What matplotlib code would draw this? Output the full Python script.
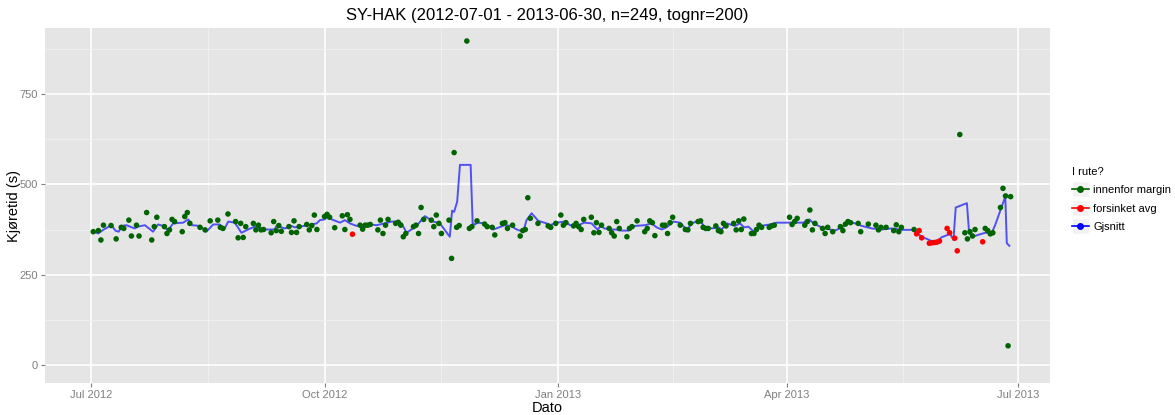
import numpy as np
import matplotlib
matplotlib.use("Agg")
import matplotlib.pyplot as plt
import matplotlib.dates as mdates
from matplotlib.lines import Line2D
from matplotlib.patches import Rectangle
from matplotlib.legend_handler import HandlerLine2D

# ---- data (day offset from 2012-07-01, running time in seconds) ----
green_days = [1, 3, 4, 5, 8, 10, 12, 13, 15, 16, 18, 19, 22, 24, 25, 26, 29, 30, 31, 32,
              33, 36, 37, 38, 39, 43, 45, 47, 50, 51, 52, 54, 57, 58, 59, 60, 61, 64, 65, 66,
              67, 68, 71, 72, 73, 74, 75, 78, 79, 80, 81, 82, 85, 86, 87, 88, 89, 92, 93, 94,
              96, 99, 100, 101, 102, 106, 107, 108, 109, 110, 113, 114, 115, 116, 117, 120, 121, 122, 123, 124,
              127, 128, 129, 130, 131, 134, 135, 136, 137, 138, 141, 142, 143, 144, 145, 148, 149, 150, 152, 155,
              156, 158, 159, 162, 163, 164, 166, 169, 170, 171, 172, 173, 176, 180, 181, 183, 185, 186, 187, 190,
              191, 192, 193, 194, 197, 198, 199, 200, 201, 204, 205, 206, 207, 208, 211, 212, 213, 215, 218, 219,
              220, 221, 222, 225, 226, 227, 228, 229, 232, 234, 235, 236, 239, 240, 241, 242, 243, 246, 247, 248,
              249, 250, 253, 254, 255, 256, 257, 260, 261, 262, 263, 264, 267, 268, 269, 275, 276, 277, 278, 281,
              282, 283, 284, 285, 288, 289, 290, 292, 295, 296, 297, 298, 299, 302, 303, 306, 309, 310, 311, 313,
              316, 317, 318, 319, 324, 342, 344, 345, 346, 347, 348, 352, 353, 354, 355, 358, 359, 360, 361, 362]
green_vals = [369, 372, 346, 387, 386, 349, 381, 378, 401, 357, 387, 357, 422, 346, 383, 409, 383, 364, 374, 403,
              397, 369, 411, 422, 392, 381, 374, 399, 401, 381, 378, 418, 397, 352, 392, 353, 383, 392, 374, 387,
              374, 375, 366, 397, 372, 386, 370, 383, 367, 399, 367, 383, 389, 374, 386, 415, 375, 411, 417, 409,
              380, 413, 375, 416, 403, 387, 376, 387, 387, 389, 374, 401, 364, 387, 403, 392, 395, 387, 355, 364,
              383, 387, 364, 436, 403, 401, 383, 415, 392, 364, 401, 295, 588, 381, 386, 897, 378, 383, 399, 390,
              383, 381, 360, 392, 394, 378, 387, 357, 372, 375, 463, 406, 392, 385, 381, 392, 415, 387, 394, 385,
              392, 383, 375, 403, 409, 366, 394, 367, 387, 378, 366, 357, 397, 378, 355, 378, 383, 399, 369, 378,
              399, 394, 358, 387, 387, 364, 394, 409, 387, 375, 374, 392, 397, 399, 381, 378, 378, 385, 372, 369,
              392, 385, 392, 374, 399, 375, 404, 364, 364, 375, 387, 381, 381, 385, 387, 409, 389, 397, 406, 387,
              397, 429, 374, 392, 378, 364, 381, 369, 383, 372, 390, 397, 394, 392, 369, 390, 387, 374, 381, 381,
              372, 388, 369, 381, 375, 638, 366, 349, 369, 357, 375, 378, 372, 363, 366, 436, 489, 468, 53, 466]
red_days = [103, 325, 326, 327, 330, 331, 332, 333, 334, 337, 338, 340, 341, 351]
red_vals = [362, 363, 372, 352, 337, 338, 339, 340, 343, 378, 366, 351, 316, 341]

line_days = [1, 2.9, 4.9, 8.1, 9.7, 11.0, 12.3, 14.0, 17.3, 18.6, 21.3, 24.5, 26.5, 28.5, 30.4, 32.4,
             36.4, 38.3, 39.9, 42.9, 45.5, 48.2, 50.8, 52.5, 54.1, 56.7, 59.3, 61.9, 65.2, 67.2, 69.2, 72.4,
             73.1, 76.4, 79.0, 80.3, 82.3, 85.6, 88.9, 90.2, 92.1, 93.5, 94.8, 98.1, 100.0, 102.0, 104.6, 106.6,
             109.8, 112.5, 115.7, 118.4, 121.0, 122.3, 124.3, 128.2, 131.5, 134.8, 137.4, 141.3, 142.2, 143.0,
             144.2, 145.3, 149.5, 150.3, 151.2, 152.2, 155.1, 158.4, 163.0, 165.4, 167.6, 170.2, 171.5, 173.5,
             176.1, 179.4, 180.7, 183.3, 186.6, 188.6, 191.9, 194.2, 197.1, 199.4, 200.8, 202.1, 205.0, 206.6,
             208.7, 211.6, 214.2, 218.1, 220.7, 222.7, 224.7, 226.6, 229.3, 231.9, 234.5, 237.1, 239.8, 241.7,
             244.4, 247.0, 248.3, 250.3, 253.5, 255.5, 257.1, 258.8, 261.4, 263.6, 267.3, 269.9, 273.9, 277.8,
             280.4, 282.8, 284.4, 287.6, 290.9, 292.9, 296.2, 298.2, 300.8, 303.4, 307.4, 311.3, 315.2, 319.2,
             323.8, 327.0, 331.0, 333.6, 334.7, 338.2, 339.5, 340.4, 344.8, 345.7, 347.8, 352.0, 354.6, 355.9,
             358.5, 359.9, 360.5, 361.5]
line_vals = [370, 364, 374, 387, 372, 369, 385, 387, 378, 383, 387, 369, 389, 385, 372, 392,
             394, 403, 387, 385, 369, 389, 389, 375, 397, 394, 366, 375, 385, 374, 375, 375,
             385, 378, 385, 381, 383, 387, 392, 401, 403, 415, 403, 394, 401, 392, 385, 387,
             389, 387, 392, 397, 397, 392, 366, 385, 412, 397, 392, 355, 427, 424,
             452, 554, 554, 392, 389, 394, 392, 375, 387, 385, 375, 369, 401, 420,
             399, 392, 387, 394, 397, 387, 387, 394, 392, 375, 385, 378, 375, 375,
             372, 372, 385, 387, 392, 381, 375, 381, 397, 394, 375, 394, 399, 381,
             378, 381, 375, 392, 385, 392, 381, 383, 366, 385, 389, 394, 394, 394,
             394, 403, 392, 381, 375, 372, 383, 397, 392, 385, 378, 375, 378, 374,
             374, 355, 343, 344, 353, 363, 346, 436, 448, 363, 357, 366, 366, 387,
             438, 466, 337, 330]

y_ticks = [0, 250, 500, 750]
x_tick_dates = ["2012-07-01", "2012-10-01", "2013-01-01", "2013-04-01", "2013-07-01"]
x_tick_labels = ["Jul 2012", "Oct 2012", "Jan 2013", "Apr 2013", "Jul 2013"]
title = "SY-HAK (2012-07-01 - 2013-06-30, n=249, tognr=200)"

# ---- plotting ----
plt.rcParams['font.family'] = ['Liberation Sans', 'DejaVu Sans']
start = np.datetime64('2012-07-01')


def to_dates(days):
    return mdates.date2num(start) + np.asarray(days, dtype=float)


fig = plt.figure(figsize=(11.75, 4.15), dpi=100)
ax = fig.add_axes([45 / 1175, 32 / 415, 1005 / 1175, 355 / 415])
ax.set_facecolor('#E5E5E5')
for s in ax.spines.values():
    s.set_visible(False)

GREEN = '#006400'
RED = '#FF0000'
BLUE = '#0000FF'

ax.plot(to_dates(line_days), line_vals, color=BLUE, alpha=0.65, lw=1.4, zorder=3)
ax.scatter(to_dates(green_days), green_vals, s=16, color=GREEN, edgecolors='none', zorder=4)
ax.scatter(to_dates(red_days), red_vals, s=16, color=RED, edgecolors='none', zorder=4)

ax.set_xlim(to_dates([-18])[0], to_dates([377.5])[0])
ax.set_ylim(-50, 933)

xt = [mdates.date2num(np.datetime64(d)) for d in x_tick_dates]
ax.set_xticks(xt)
ax.set_xticklabels(x_tick_labels)
xminor = [(a + b) / 2 for a, b in zip(xt[:-1], xt[1:])]
ax.set_xticks(xminor, minor=True)
ax.set_yticks(y_ticks)
ax.set_yticklabels([str(v) for v in y_ticks])
ax.set_yticks([(a + b) / 2 for a, b in zip(y_ticks[:-1], y_ticks[1:])] + [875], minor=True)

ax.grid(which='major', color='white', lw=1.2)
ax.grid(which='minor', color='#F2F2F2', lw=0.6)
ax.set_axisbelow(True)
ax.tick_params(which='major', colors='#7F7F7F', labelsize=8, length=3, width=0.8,
               labelcolor='#7F7F7F', pad=2)
ax.tick_params(which='minor', length=0)

ax.set_xlabel("Dato", fontsize=10.5)
ax.set_ylabel("Kjøretid (s)", fontsize=10.5)
ax.xaxis.set_label_coords(0.5, -0.05)
ax.xaxis.label.set_va('top')
ax.yaxis.set_label_coords(-0.031, 0.5)
ax.yaxis.label.set_va('center')
ax.set_title(title, fontsize=12, pad=6)


class KeyHandler(HandlerLine2D):
    def create_artists(self, legend, orig_handle, xdescent, ydescent, width, height, fontsize, trans):
        arts = super().create_artists(legend, orig_handle, xdescent, ydescent, width, height, fontsize, trans)
        rect = Rectangle((-xdescent, -ydescent - 3), width, height + 6, facecolor='#F2F2F2',
                         edgecolor='white', lw=1, transform=trans)
        return [rect] + list(arts)


handles = [Line2D([], [], color=GREEN, marker='o', markersize=4, lw=1.2),
           Line2D([], [], color=RED, marker='o', markersize=4, lw=1.2),
           Line2D([], [], color=BLUE, marker='o', markersize=4, lw=1.2)]
labels = ["innenfor margin", "forsinket avg", "Gjsnitt"]
leg = fig.legend(handles, labels, title="I rute?", loc='upper left',
                 bbox_to_anchor=(1062 / 1175, 258 / 415), frameon=False,
                 fontsize=8, title_fontsize=8, handlelength=1.5, handletextpad=0.4,
                 labelspacing=0.75, handler_map={Line2D: KeyHandler()})
leg._legend_box.align = "left"

fig.savefig("out.png", dpi=100)
